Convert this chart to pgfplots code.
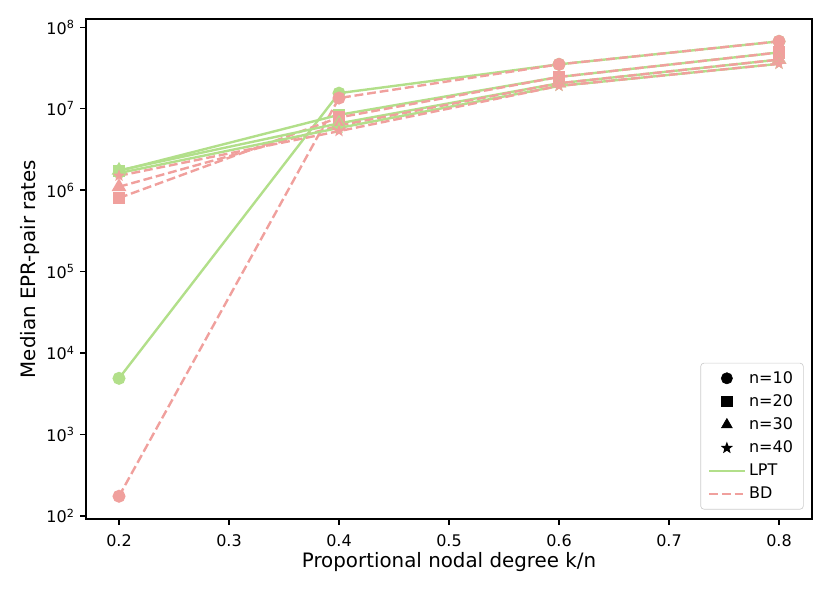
\documentclass[border=0pt]{standalone}
\usepackage{fontspec}
\setmainfont{DejaVu Sans}
\usepackage{pgfplots}
\pgfplotsset{compat=1.18}
\definecolor{lpt}{RGB}{178,223,138}
\definecolor{bd}{RGB}{240,160,157}
\pgfdeclareplotmark{fstar}{%
  \pgfpathmoveto{\pgfpointpolar{90}{\pgfplotmarksize}}%
  \pgfpathlineto{\pgfpointpolar{126}{0.42\pgfplotmarksize}}%
  \pgfpathlineto{\pgfpointpolar{162}{\pgfplotmarksize}}%
  \pgfpathlineto{\pgfpointpolar{198}{0.42\pgfplotmarksize}}%
  \pgfpathlineto{\pgfpointpolar{234}{\pgfplotmarksize}}%
  \pgfpathlineto{\pgfpointpolar{270}{0.42\pgfplotmarksize}}%
  \pgfpathlineto{\pgfpointpolar{306}{\pgfplotmarksize}}%
  \pgfpathlineto{\pgfpointpolar{342}{0.42\pgfplotmarksize}}%
  \pgfpathlineto{\pgfpointpolar{18}{\pgfplotmarksize}}%
  \pgfpathlineto{\pgfpointpolar{54}{0.42\pgfplotmarksize}}%
  \pgfpathclose\pgfusepathqfill}
\begin{document}
\begin{tikzpicture}
\begin{axis}[
  at={(0,0)}, anchor=south west,
  scale only axis, width=453.75pt, height=312.5pt,
  ymode=log, log basis y=10,
  xmin=0.17, xmax=0.83,
  ymin=92, ymax=1.26e8,
  xtick={0.2,0.3,0.4,0.5,0.6,0.7,0.8},
  xticklabels={0.2,0.3,0.4,0.5,0.6,0.7,0.8},
  ytick={1e2,1e3,1e4,1e5,1e6,1e7,1e8},
  yticklabels={10\textsuperscript{2},10\textsuperscript{3},10\textsuperscript{4},10\textsuperscript{5},10\textsuperscript{6},10\textsuperscript{7},10\textsuperscript{8}},
  tick align=outside, tick pos=left,
  major tick length=3.5pt, minor tick length=2pt,
  every major tick/.style={line width=0.8pt, black},
  every minor tick/.style={line width=0.6pt, black},
  axis line style={line width=0.8pt},
  ticklabel style={font=\fontsize{10}{12}\selectfont},
  xticklabel style={yshift=-2.5pt},
  label style={font=\fontsize{12.4}{14}\selectfont},
  xlabel={Proportional nodal degree k/n},
  ylabel={Median EPR-pair rates},
  xlabel style={at={(axis description cs:0.5,-0.0864)}, anchor=center},
  ylabel style={at={(axis description cs:-0.0771,0.5)}, anchor=center},
  legend style={at={(rel axis cs:0.9885,0.019)}, anchor=south east,
    draw=black!20, rounded corners=2pt, font=\fontsize{10}{12}\selectfont,
    row sep=1.6pt, inner xsep=4.5pt, inner ysep=3pt, fill=white},
  legend cell align=left,
  legend image code/.code={\draw[mark repeat=2,mark phase=2,#1] plot coordinates {(0cm,0cm) (0.39cm,0cm) (0.78cm,0cm)};},
]
% LPT and BD per n
\addplot[lpt, line width=1.5pt, mark=*, mark size=3.3pt, forget plot] coordinates {(0.2,4.9e3) (0.4,1.55e7) (0.6,3.5e7) (0.8,6.7e7)};
\addplot[bd, line width=1.5pt, dash pattern=on 5.55pt off 2.4pt, mark=*, mark size=3.3pt, mark options={solid}, forget plot] coordinates {(0.2,175) (0.4,1.35e7) (0.6,3.5e7) (0.8,6.7e7)};
\addplot[lpt, line width=1.5pt, mark=square*, mark size=3.2pt, forget plot] coordinates {(0.2,1.72e6) (0.4,8.4e6) (0.6,2.45e7) (0.8,4.9e7)};
\addplot[bd, line width=1.5pt, dash pattern=on 5.55pt off 2.4pt, mark=square*, mark size=3.2pt, mark options={solid}, forget plot] coordinates {(0.2,8.0e5) (0.4,7.8e6) (0.6,2.45e7) (0.8,4.9e7)};
\addplot[lpt, line width=1.5pt, mark=triangle*, mark size=3.8pt, forget plot] coordinates {(0.2,1.75e6) (0.4,6.6e6) (0.6,2.05e7) (0.8,4.0e7)};
\addplot[bd, line width=1.5pt, dash pattern=on 5.55pt off 2.4pt, mark=triangle*, mark size=3.8pt, mark options={solid}, forget plot] coordinates {(0.2,1.1e6) (0.4,6.2e6) (0.6,2.05e7) (0.8,4.0e7)};
\addplot[lpt, line width=1.5pt, mark=fstar, mark size=4pt, forget plot] coordinates {(0.2,1.62e6) (0.4,5.8e6) (0.6,1.9e7) (0.8,3.55e7)};
\addplot[bd, line width=1.5pt, dash pattern=on 5.55pt off 2.4pt, mark=fstar, mark size=4pt, mark options={solid}, forget plot] coordinates {(0.2,1.5e6) (0.4,5.3e6) (0.6,1.9e7) (0.8,3.55e7)};
% legend
\addlegendimage{/tikz/only marks, mark=*, mark size=3.5pt, black}
\addlegendentry{n=10}
\addlegendimage{/tikz/only marks, mark=square*, mark size=3.3pt, black}
\addlegendentry{n=20}
\addlegendimage{/tikz/only marks, mark=triangle*, mark size=3.9pt, black}
\addlegendentry{n=30}
\addlegendimage{/tikz/only marks, mark=fstar, mark size=4pt, black}
\addlegendentry{n=40}
\addlegendimage{lpt, line width=1.5pt}
\addlegendentry{LPT}
\addlegendimage{bd, line width=1.5pt, dash pattern=on 5.55pt off 2.4pt}
\addlegendentry{BD}
\end{axis}
\pgfresetboundingbox
\useasboundingbox (-53.75pt,-46.25pt) rectangle (465pt,324.375pt);
\end{tikzpicture}
\end{document}
